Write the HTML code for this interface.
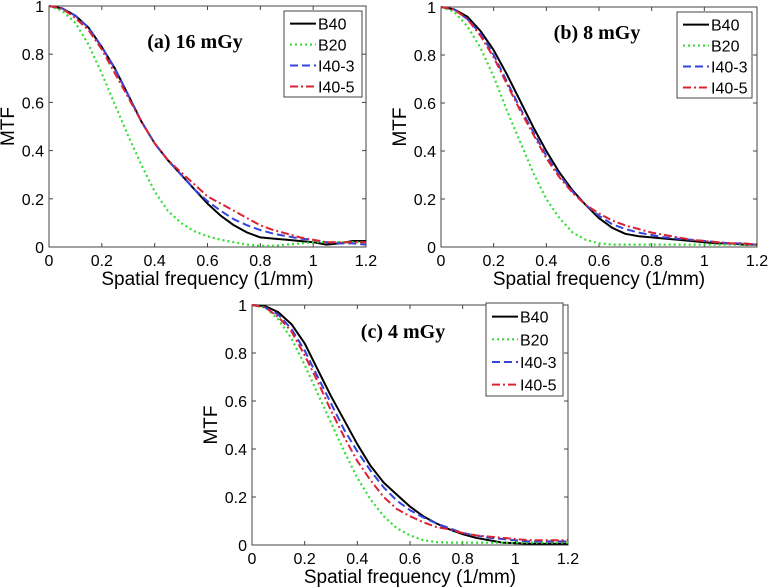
<!DOCTYPE html>
<html><head><meta charset="utf-8"><style>
html,body{margin:0;padding:0;background:#fff;}
svg{display:block;font-family:"Liberation Sans",Arial,sans-serif;}
</style></head><body>
<svg id="chart" width="768" height="588" viewBox="0 0 768 588"></svg>
<script>
const xs = [0,0.05,0.1,0.15,0.2,0.25,0.3,0.35,0.4,0.45,0.5,0.55,0.6,0.65,0.7,0.75,0.8,0.85,0.9,0.95,1.0,1.05,1.1,1.15,1.2];
const xTicks = [0,0.2,0.4,0.6,0.8,1,1.2];
const yTicks = [0,0.2,0.4,0.6,0.8,1];
const seriesNames = ["B40","B20","I40-3","I40-5"];
const panelTitles = ["(a) 16 mGy","(b) 8 mGy","(c) 4 mGy"];
const a_B40 = [1,.99,.96,.91,.83,.74,.63,.52,.43,.36,.30,.24,.18,.13,.09,.06,.04,.035,.03,.025,.02,.01,.015,.025,.025];
const a_B20 = [1,.98,.93,.84,.72,.59,.46,.34,.23,.15,.10,.065,.045,.03,.02,.01,.005,.005,.01,.015,.02,.02,.02,.02,.02];
const a_I403 = [1,.99,.96,.91,.83,.74,.63,.52,.43,.36,.30,.24,.19,.15,.115,.09,.07,.055,.045,.035,.03,.02,.015,.015,.01];
const a_I405 = [1,.99,.95,.90,.82,.72,.62,.52,.43,.36,.31,.26,.21,.18,.15,.12,.09,.07,.055,.04,.03,.02,.02,.02,.02];
const b_B40 = [1,.99,.96,.90,.82,.72,.61,.50,.40,.31,.235,.175,.12,.08,.055,.045,.04,.035,.03,.025,.02,.015,.015,.01,.01];
const b_B20 = [1,.98,.92,.83,.71,.57,.44,.31,.20,.12,.06,.03,.015,.01,.01,.01,.01,.01,.01,.01,.01,.01,.01,.01,.01];
const b_I403 = [1,.99,.95,.89,.80,.69,.58,.48,.38,.30,.23,.175,.13,.095,.075,.06,.05,.04,.035,.03,.025,.02,.015,.015,.01];
const b_I405 = [1,.99,.95,.88,.79,.68,.57,.47,.37,.29,.225,.175,.14,.11,.09,.075,.06,.05,.04,.03,.025,.02,.015,.015,.01];
const c_B40 = [1,.995,.97,.92,.84,.73,.62,.52,.42,.33,.26,.21,.16,.12,.09,.065,.045,.03,.02,.01,.008,.005,.005,.005,.005];
const c_B20 = [1,.99,.94,.86,.75,.63,.51,.39,.28,.19,.12,.07,.04,.02,.012,.01,.01,.01,.01,.01,.01,.01,.01,.01,.01];
const c_I403 = [1,.99,.96,.90,.81,.70,.59,.48,.39,.31,.24,.185,.145,.115,.09,.07,.05,.04,.03,.025,.02,.015,.015,.015,.015];
const c_I405 = [1,.99,.95,.89,.79,.68,.56,.45,.35,.27,.20,.15,.12,.095,.075,.065,.05,.04,.035,.03,.025,.02,.02,.02,.02];

const panelData = [[a_B40,a_B20,a_I403,a_I405],[b_B40,b_B20,b_I403,b_I405],[c_B40,c_B20,c_I403,c_I405]];
const styles = [
 {c:"#000",w:2,d:""},{c:"#33dd33",w:2.2,d:"2 3"},{c:"#3344dd",w:2,d:"8 4"},{c:"#dd2233",w:2,d:"8 3 2 3"}];
const layouts = [
 {l:49,r:366,t:6,b:247,lg:[284,11,78,86],tx:195,ty:48,id:"a"},
 {l:441,r:757,t:7,b:247,lg:[677,12,75,86],tx:597,ty:39,id:"b"},
 {l:252,r:568,t:305,b:545,lg:[486,303,77,93],tx:403,ty:338,id:"c"}];
const NS="http://www.w3.org/2000/svg";
const svg=document.getElementById("chart");
function mk(tag,attrs,parent){const e=document.createElementNS(NS,tag);for(const k in attrs)e.setAttribute(k,attrs[k]);parent.appendChild(e);return e;}
layouts.forEach((L,pi)=>{
  const g=mk("g",{},svg);
  
  
  const X=v=>L.l+(v/1.2)*(L.r-L.l);
  const Y=v=>L.b-v*(L.b-L.t);
  mk("rect",{x:L.l,y:L.t,width:L.r-L.l,height:L.b-L.t,fill:"#fff",stroke:"#444","stroke-width":1},g);
  xTicks.forEach(t=>{
    mk("line",{x1:X(t),x2:X(t),y1:L.b,y2:L.b-4,stroke:"#444"},g);
    mk("line",{x1:X(t),x2:X(t),y1:L.t,y2:L.t+4,stroke:"#444"},g);
    const tx=mk("text",{x:X(t),y:L.b+19,"text-anchor":"middle","font-size":"16"},g);
    tx.textContent=String(t);
    
    
  });
  yTicks.forEach(t=>{
    mk("line",{x1:L.l,x2:L.l+4,y1:Y(t),y2:Y(t),stroke:"#444"},g);
    mk("line",{x1:L.r,x2:L.r-4,y1:Y(t),y2:Y(t),stroke:"#444"},g);
    const tx=mk("text",{x:L.l-5,y:Y(t)+6,"text-anchor":"end","font-size":"16"},g);
    tx.textContent=String(t);
    
    
  });
  const xl=mk("text",{x:(L.l+L.r)/2,y:L.b+38,"text-anchor":"middle","font-size":"19"},g);
  xl.textContent="Spatial frequency (1/mm)";
  
  
  const yx=L.l-35, yy=(L.t+L.b)/2;
  const yl=mk("text",{x:yx,y:yy,"text-anchor":"middle","font-size":"19",transform:`rotate(-90 ${yx} ${yy})`},g);
  yl.textContent="MTF";
  
  
  panelData[pi].forEach((arr,si)=>{
    const s=styles[si];
    const pts=arr.map((v,i)=>X(xs[i]).toFixed(1)+","+Y(v).toFixed(1)).join(" ");
    const p=mk("polyline",{points:pts,fill:"none",stroke:s.c,"stroke-width":s.w,"stroke-dasharray":s.d,"stroke-linejoin":"round"},g);
    
    
  });
  const [lx,ly,lw,lh]=L.lg;
  const lg=mk("g",{},g);
  
  
  mk("rect",{x:lx,y:ly,width:lw,height:lh,fill:"#fff",stroke:"#444"},lg);
  seriesNames.forEach((n,si)=>{
    const s=styles[si], yy2=ly+lh*(si+0.6)/4.1;
    mk("line",{x1:lx+6,x2:lx+32,y1:yy2,y2:yy2,stroke:s.c,"stroke-width":s.w,"stroke-dasharray":s.d},lg);
    const t=mk("text",{x:lx+34,y:yy2+6,"font-size":"16"},lg);
    t.textContent=n;
    
    
  });
  const ti=mk("text",{x:L.tx,y:L.ty,"text-anchor":"middle","font-size":"20","font-weight":"bold","font-family":"Liberation Serif, serif"},g);
  ti.textContent=panelTitles[pi];
  
  
});
</script>
</body></html>
